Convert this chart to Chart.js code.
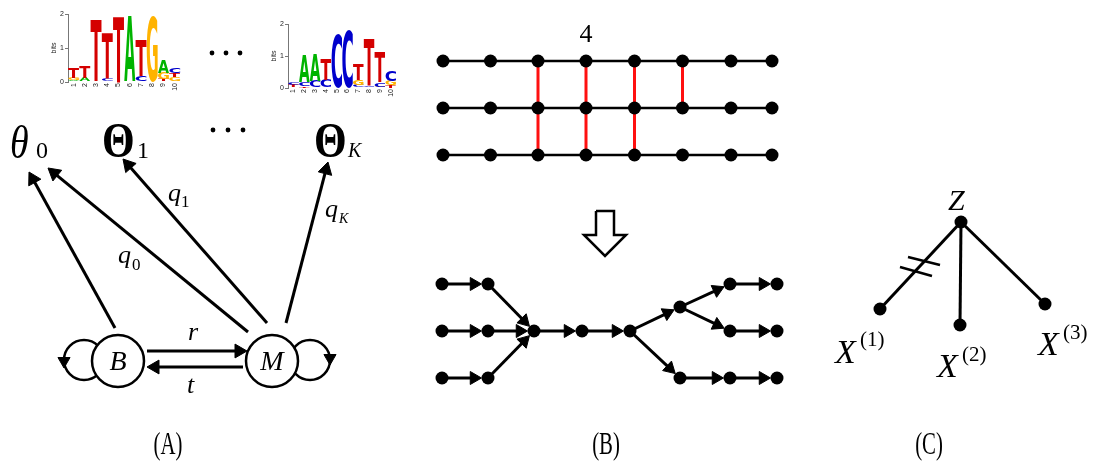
<!DOCTYPE html>
<html>
<head>
<meta charset="utf-8">
<script src="https://cdn.jsdelivr.net/npm/chart.js@4.4.0/dist/chart.umd.min.js"></script>
<style>
html, body { margin: 0; padding: 0; background: #fff; }
#wrap { position: relative; width: 1098px; height: 466px; }
#wrap canvas { position: absolute; }
</style>
</head>
<body>
<div id="wrap">
  <canvas id="diagram" width="1098" height="466" style="left:0;top:0"></canvas>
  <canvas id="logo1" width="138" height="88" style="left:46px;top:6px"></canvas>
  <canvas id="logo2" width="134" height="84" style="left:266px;top:16px"></canvas>
</div>
<script>
// ---- sequence logos (letters bottom -> top, heights in bits) ----
const logoPositions = ['1', '2', '3', '4', '5', '6', '7', '8', '9', '10'];
const logo1Letters = [['C','A','G','T'], ['C','A','T'], ['G','T'], ['G','C','T'], ['T'], ['A'], ['G','C','T'], ['G'], ['C','T','G','A'], ['A','G','T','C']];
const logo1Bits = [[0.02,0.03,0.08,0.32], [0.02,0.1,0.33], [0.02,1.83], [0.02,0.08,1.35], [1.94], [1.96], [0.02,0.17,1.08], [1.95], [0.02,0.06,0.19,0.38], [0.02,0.12,0.12,0.16]];
const logo2Letters = [['A','T','C'], ['T','C','A'], ['G','C','A'], ['A','C','T'], ['T','C'], ['A','C'], ['C','G','T'], ['C','T'], ['G','C','T'], ['T','G','C']];
const logo2Bits = [[0.03,0.06,0.1], [0.05,0.12,0.86], [0.02,0.2,0.86], [0.02,0.24,0.67], [0.02,1.7], [0.02,1.82], [0.1,0.15,0.5], [0.05,1.5], [0.04,0.14,0.96], [0.08,0.15,0.33]];

// ---- panel A: HMM states, self loops and emission arrows ----
const stateNames = ['B', 'M'];
const stateX = [118, 272];
const stateY = [361, 361];
const loopX = [84, 310];
const loopY = [360, 360];
const loopHeadX = [64, 330];
const loopHeadY = [361, 358];
const emitStartX = [115, 248, 267, 286];
const emitStartY = [328, 332, 323, 323];
const emitTipX = [29, 48, 123, 328];
const emitTipY = [172, 168, 159, 162];
const switchStartX = [147, 243];   // r, t
const switchStartY = [351, 367];
const switchTipX = [247, 147];
const switchTipY = [351, 367];
const ellipsisX = [213, 228, 243, 212, 226, 240];
const ellipsisY = [130, 130, 130, 53, 53, 53];

// ---- panel B: lattice and tree ----
const latticeX = [443, 490.5, 538, 586, 634.5, 682.5, 731, 772];
const latticeY = [61, 108, 155];
const rungsUpper = [2, 3, 4, 5];
const rungsLower = [2, 3, 4];
const treeX = [442, 488, 442, 488, 534, 582, 630, 442, 488, 680, 730, 777, 730, 777, 680, 730, 777];
const treeY = [284, 284, 331, 331, 331, 331, 331, 378, 378, 307, 284, 284, 331, 331, 378, 378, 378];
const treeEdges = [[0,1],[1,4],[2,3],[3,4],[7,8],[8,4],[4,5],[5,6],[6,9],[9,10],[10,11],[9,12],[12,13],[6,14],[14,15],[15,16]];
const hollowArrowX = [596, 614, 614, 626, 605, 584, 596, 596];
const hollowArrowY = [211, 211, 235, 235, 256, 235, 235, 211];

// ---- panel C: star tree ----
const rootX = [961];
const rootY = [222];
const leafX = [880, 960, 1045];
const leafY = [309, 325, 304];
const slashStartX = [908, 900];
const slashStartY = [257, 267];
const slashEndX = [940, 932];
const slashEndY = [265, 276];

// ---- text ----
const SERIF = '"Times New Roman", "Liberation Serif", Times, serif';
const textLabels = [
    { t: 'θ', x: 10, y: 158, f: 'italic 38px', sy: 1.2 },
    { t: '0', x: 36, y: 158, f: '24px' },
    { t: 'Θ', x: 102, y: 157, f: 'bold 42px', sy: 1.2 },
    { t: '1', x: 137, y: 158, f: '24px' },
    { t: 'Θ', x: 314, y: 157, f: 'bold 42px', sy: 1.2 },
    { t: 'K', x: 348, y: 157, f: 'italic 20px' },
    { t: 'q', x: 168, y: 201, f: 'italic 26px' },
    { t: '1', x: 181, y: 207, f: '17px' },
    { t: 'q', x: 118, y: 263, f: 'italic 26px' },
    { t: '0', x: 132, y: 270, f: '17px' },
    { t: 'q', x: 325, y: 217, f: 'italic 26px' },
    { t: 'K', x: 339, y: 223, f: 'italic 14px' },
    { t: 'r', x: 188, y: 340, f: 'italic 26px' },
    { t: 't', x: 187, y: 393, f: 'italic 26px' },
    { t: 'B', x: 118, y: 370, f: 'italic 28px', a: 'center' },
    { t: 'M', x: 272, y: 370, f: 'italic 28px', a: 'center' },
    { t: '4', x: 586, y: 42, f: '26px', a: 'center' },
    { t: 'Z', x: 948, y: 210, f: 'italic 30px' },
    { t: 'X', x: 835, y: 363, f: 'italic 34px' },
    { t: '(1)', x: 860, y: 346, f: '21px' },
    { t: 'X', x: 937, y: 377, f: 'italic 34px' },
    { t: '(2)', x: 962, y: 361, f: '21px' },
    { t: 'X', x: 1038, y: 355, f: 'italic 34px' },
    { t: '(3)', x: 1063, y: 339, f: '21px' },
    { t: '(A)', x: 168, y: 454, f: '26px', a: 'center', sx: 0.8, sy: 1.2 },
    { t: '(B)', x: 606, y: 454, f: '26px', a: 'center', sx: 0.8, sy: 1.2 },
    { t: '(C)', x: 929, y: 454, f: '26px', a: 'center', sx: 0.8, sy: 1.2 }
];

const letterColors = { A: '#00b400', C: '#0000cc', G: '#ffb300', T: '#d40000' };

// draws each stacked bar as a stretched letter
const letterPlugin = {
    id: 'letters',
    afterDatasetsDraw(chart) {
        const ctx = chart.ctx;
        chart.data.datasets.forEach((ds, di) => {
            const meta = chart.getDatasetMeta(di);
            meta.data.forEach((bar, i) => {
                const ch = ds.letters[i];
                if (!ch) return;
                const p = bar.getProps(['x', 'y', 'base', 'width'], true);
                const h = p.base - p.y;
                if (h < 0.3) return;
                ctx.save();
                ctx.font = 'bold 100px "DejaVu Sans", "Liberation Sans", Arial, sans-serif';
                const m = ctx.measureText(ch);
                const gw = m.actualBoundingBoxLeft + m.actualBoundingBoxRight;
                const gh = m.actualBoundingBoxAscent + m.actualBoundingBoxDescent;
                ctx.translate(p.x - p.width / 2, p.y);
                ctx.scale(p.width / gw, h / gh);
                ctx.fillStyle = letterColors[ch];
                ctx.textAlign = 'left';
                ctx.textBaseline = 'alphabetic';
                ctx.fillText(ch, m.actualBoundingBoxLeft, m.actualBoundingBoxAscent);
                ctx.restore();
            });
        });
    }
};

function buildLogo(canvasId, letters, bits) {
    const levels = Math.max(...letters.map(col => col.length));
    const datasets = [];
    for (let k = 0; k < levels; k++) {
        datasets.push({
            data: bits.map(col => (col[k] !== undefined ? col[k] : null)),
            letters: letters.map(col => col[k] || ''),
            backgroundColor: 'rgba(0,0,0,0)',
            borderWidth: 0,
            categoryPercentage: 1,
            barPercentage: 0.98
        });
    }
    const tickFont = { size: 7, family: '"Liberation Sans", Arial, sans-serif' };
    new Chart(document.getElementById(canvasId), {
        type: 'bar',
        data: { labels: logoPositions, datasets: datasets },
        options: {
            responsive: false,
            animation: false,
            events: [],
            layout: { padding: { top: 8, right: 0, bottom: 0, left: 0 } },
            plugins: { legend: { display: false }, tooltip: { enabled: false } },
            scales: {
                x: {
                    stacked: true,
                    grid: { display: false, drawTicks: false },
                    border: { display: false },
                    ticks: { minRotation: 90, maxRotation: 90, autoSkip: false, font: tickFont, color: '#222', padding: 1 },
                    afterFit: s => { s.height = 12; }
                },
                y: {
                    stacked: true,
                    min: 0,
                    max: 2,
                    ticks: { stepSize: 1, font: tickFont, color: '#222', padding: 1 },
                    grid: { display: true, drawOnChartArea: false, tickLength: 3, color: '#777' },
                    border: { display: true, color: '#777' },
                    title: { display: true, text: 'bits', font: tickFont, color: '#222', padding: { top: 4, bottom: 0 } },
                    afterFit: s => { s.width = 22; }
                }
            }
        },
        plugins: [letterPlugin]
    });
}

buildLogo('logo1', logo1Letters, logo1Bits);
buildLogo('logo2', logo2Letters, logo2Bits);

// ---- helpers for the diagram ----
function pts(xs, ys) {
    return xs.map((x, i) => ({ x: x, y: ys[i] }));
}

function segment(x0, y0, x1, y1, color, width, order) {
    return {
        data: [{ x: x0, y: y0 }, { x: x1, y: y1 }],
        showLine: true, borderColor: color, borderWidth: width,
        pointRadius: 0, order: order
    };
}

// arrow whose head tip sits at (x1, y1)
function arrow(x0, y0, x1, y1, head, width) {
    const dx = x1 - x0, dy = y1 - y0;
    const len = Math.hypot(dx, dy);
    const cx = x1 - dx / len * head, cy = y1 - dy / len * head;
    const rot = Math.atan2(dx, -dy) * 180 / Math.PI;
    return {
        data: [{ x: x0, y: y0 }, { x: cx, y: cy }],
        showLine: true, borderColor: '#000', borderWidth: width,
        pointRadius: [0, head], pointStyle: 'triangle', pointRotation: [0, rot],
        pointBackgroundColor: '#000', pointBorderColor: '#000', pointBorderWidth: 1,
        order: 4
    };
}

function nodes(xs, ys, r, order) {
    return {
        data: pts(xs, ys), showLine: false,
        pointRadius: r, pointStyle: 'circle',
        pointBackgroundColor: '#000', pointBorderColor: '#000', pointBorderWidth: 0,
        order: order
    };
}

const datasets = [];

// panel A
datasets.push({
    data: pts(loopX, loopY), showLine: false, pointRadius: 20,
    pointBackgroundColor: 'rgba(0,0,0,0)', pointBorderColor: '#000', pointBorderWidth: 2.5, order: 6
});
datasets.push({
    data: pts(loopHeadX, loopHeadY), showLine: false, pointRadius: 7, pointStyle: 'triangle',
    pointRotation: 180, pointBackgroundColor: '#000', pointBorderColor: '#000', pointBorderWidth: 1, order: 2
});
datasets.push({
    data: pts(stateX, stateY), showLine: false, pointRadius: 26,
    pointBackgroundColor: '#fff', pointBorderColor: '#000', pointBorderWidth: 2.5, order: 1
});
emitStartX.forEach((x, i) => datasets.push(arrow(x, emitStartY[i], emitTipX[i], emitTipY[i], 8, 3)));
switchStartX.forEach((x, i) => datasets.push(arrow(x, switchStartY[i], switchTipX[i], switchTipY[i], 8, 3)));
datasets.push(nodes(ellipsisX, ellipsisY, 2.4, 1));

// panel B: lattice
latticeY.forEach(y => {
    datasets.push({
        data: latticeX.map(x => ({ x: x, y: y })), showLine: true,
        borderColor: '#000', borderWidth: 2.5,
        pointRadius: 6.5, pointBackgroundColor: '#000', pointBorderWidth: 0, order: 3
    });
});
rungsUpper.forEach(c => datasets.push(segment(latticeX[c], latticeY[0], latticeX[c], latticeY[1], '#ff1010', 3, 6)));
rungsLower.forEach(c => datasets.push(segment(latticeX[c], latticeY[1], latticeX[c], latticeY[2], '#ff1010', 3, 6)));

// panel B: hollow arrow
datasets.push({
    data: pts(hollowArrowX, hollowArrowY), showLine: true,
    borderColor: '#000', borderWidth: 2.5, borderJoinStyle: 'miter', pointRadius: 0, order: 4
});

// panel B: tree
const treeNodeR = 6.5;
treeEdges.forEach(([a, b]) => {
    const dx = treeX[b] - treeX[a], dy = treeY[b] - treeY[a];
    const len = Math.hypot(dx, dy);
    const tipX = treeX[b] - dx / len * treeNodeR;
    const tipY = treeY[b] - dy / len * treeNodeR;
    datasets.push(arrow(treeX[a], treeY[a], tipX, tipY, 7.5, 3));
});
datasets.push(nodes(treeX, treeY, treeNodeR, 1));

// panel C
leafX.forEach((x, i) => datasets.push(segment(rootX[0], rootY[0], x, leafY[i], '#000', 3, 4)));
slashStartX.forEach((x, i) => datasets.push(segment(x, slashStartY[i], slashEndX[i], slashEndY[i], '#000', 2.5, 4)));
datasets.push(nodes(rootX, rootY, 6.5, 1));
datasets.push(nodes(leafX, leafY, 6.5, 1));

// text drawn at data positions
const textPlugin = {
    id: 'texts',
    afterDraw(chart) {
        const ctx = chart.ctx;
        const sx = chart.scales.x, sy = chart.scales.y;
        textLabels.forEach(l => {
            ctx.save();
            ctx.font = l.f + ' ' + SERIF;
            ctx.fillStyle = '#000';
            ctx.textAlign = l.a || 'left';
            ctx.textBaseline = 'alphabetic';
            ctx.translate(sx.getPixelForValue(l.x), sy.getPixelForValue(l.y));
            ctx.scale(l.sx || 1, l.sy || 1);
            ctx.fillText(l.t, 0, 0);
            ctx.restore();
        });
    }
};

new Chart(document.getElementById('diagram'), {
    type: 'scatter',
    data: { datasets: datasets },
    options: {
        responsive: false,
        animation: false,
        events: [],
        layout: { padding: 0, autoPadding: false },
        plugins: { legend: { display: false }, tooltip: { enabled: false } },
        scales: {
            x: { type: 'linear', min: 0, max: 1098, display: false },
            y: { type: 'linear', min: 0, max: 466, reverse: true, display: false }
        }
    },
    plugins: [textPlugin]
});
</script>
</body>
</html>
